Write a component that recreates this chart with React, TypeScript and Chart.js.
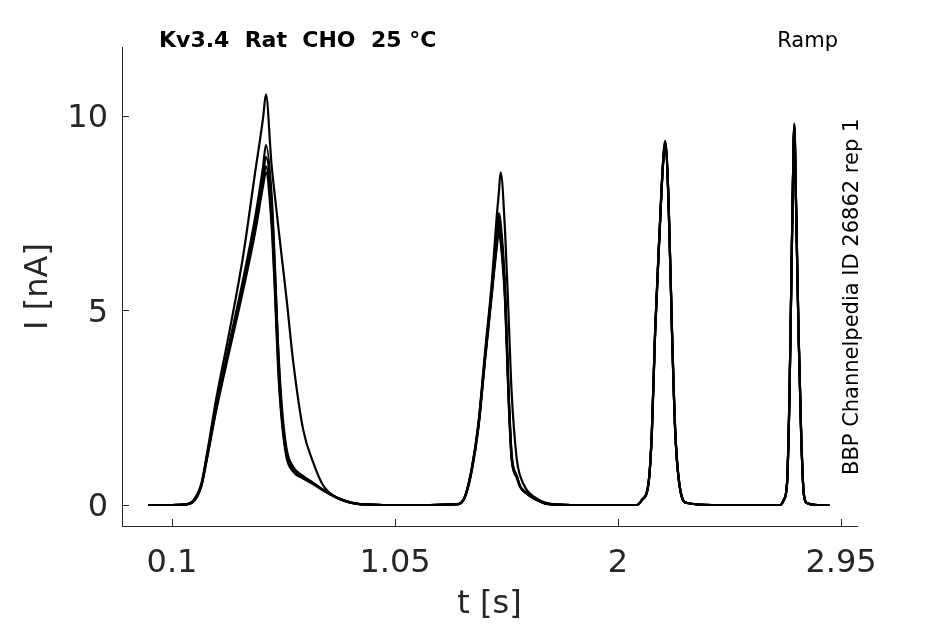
import { useEffect, useRef } from "react";
import { Chart, registerables } from "chart.js";

Chart.register(...registerables);

const TITLE = "Kv3.4  Rat  CHO  25 °C";
const PROTOCOL = "Ramp";
const SOURCE = "BBP Channelpedia ID 26862 rep 1";

const X_TICKS = [0.1, 1.05, 2, 2.95];
const Y_TICKS = [0, 5, 10];

// sample times in s (denser around the four ramp peaks)
const T = [
  0, 0.1, 0.15, 0.188, 0.225, 0.247, 0.289, 0.346, 0.403, 0.453, 0.488, 0.5,
  0.524, 0.538, 0.552, 0.567, 0.588, 0.616, 0.659, 0.701, 0.744, 0.815, 0.9,
  1.0, 1.2, 1.32, 1.348, 1.377, 1.405, 1.433, 1.462, 1.483, 1.492, 1.5,
  1.519, 1.533, 1.547, 1.569, 1.583, 1.611, 1.639, 1.697, 1.8, 2.0,
  2.08, 2.102, 2.13, 2.144, 2.158, 2.177, 2.191, 2.201, 2.215, 2.23, 2.244, 2.265, 2.294, 2.4,
  2.6, 2.69, 2.706, 2.72, 2.73, 2.737, 2.745, 2.751, 2.758, 2.769, 2.78, 2.791, 2.805, 2.85, 2.9,
];

// current traces in nA, one per sweep
const TRACE_A = [
  0, 0, 0.01, 0.1, 0.55, 1.25, 2.75, 4.5, 6.4, 8.5, 9.95, 10.55,
  8.75, 7.95, 7.2, 6.4, 5.3, 3.7, 1.93, 1.1, 0.5, 0.15, 0.02,
  0, 0, 0.03, 0.22, 0.95, 2.1, 3.9, 5.7, 7.4, 8.0, 8.55,
  7.0, 5.0, 2.87, 1.16, 0.75, 0.39, 0.22, 0.05, 0, 0,
  0, 0.14, 0.58, 1.88, 4.5, 7.05, 8.75, 9.36, 7.9, 4.5, 1.9, 0.4, 0.05, 0,
  0, 0, 0.14, 0.58, 2.75, 5.3, 8.3, 9.8, 7.9, 4.5, 1.9, 0.32, 0.05, 0, 0,
];
const TRACE_B = [
  0, 0, 0.01, 0.09, 0.52, 1.2, 2.58, 4.2, 5.8, 7.35, 8.7, 9.25,
  8.0, 6.2, 4.0, 2.45, 1.36, 0.95, 0.72, 0.56, 0.39, 0.16, 0.02,
  0, 0, 0.02, 0.22, 0.93, 2.05, 3.8, 5.55, 6.9, 7.5, 7.25,
  5.6, 3.1, 1.3, 0.75, 0.49, 0.31, 0.19, 0.03, 0, 0,
  0, 0.13, 0.57, 1.86, 4.46, 7.03, 8.72, 9.32, 7.86, 4.45, 1.86, 0.4, 0.05, 0,
  0, 0, 0.13, 0.57, 2.72, 5.29, 8.3, 9.77, 7.86, 4.44, 1.85, 0.31, 0.05, 0, 0,
];
const TRACE_C = [
  0, 0, 0.01, 0.08, 0.5, 1.17, 2.53, 4.12, 5.68, 7.18, 8.5, 8.95,
  7.8, 6.1, 4.1, 2.6, 1.45, 0.98, 0.74, 0.57, 0.39, 0.16, 0.02,
  0, 0, 0.02, 0.21, 0.91, 2.02, 3.76, 5.5, 6.8, 7.3, 7.05,
  5.45, 3.0, 1.25, 0.73, 0.48, 0.3, 0.18, 0.03, 0, 0,
  0, 0.13, 0.56, 1.85, 4.44, 7.0, 8.7, 9.28, 7.82, 4.43, 1.85, 0.39, 0.05, 0,
  0, 0, 0.13, 0.56, 2.7, 5.27, 8.28, 9.74, 7.84, 4.42, 1.84, 0.3, 0.05, 0, 0,
];
const TRACE_D = [
  0, 0, 0.01, 0.08, 0.5, 1.15, 2.5, 4.07, 5.61, 7.07, 8.35, 8.7,
  7.4, 5.7, 3.7, 2.3, 1.28, 0.9, 0.7, 0.55, 0.38, 0.15, 0.02,
  0, 0, 0.02, 0.21, 0.9, 2.0, 3.73, 5.44, 6.7, 7.15, 6.9,
  5.3, 2.9, 1.2, 0.72, 0.47, 0.3, 0.18, 0.03, 0, 0,
  0, 0.13, 0.56, 1.84, 4.42, 6.99, 8.7, 9.3, 7.84, 4.42, 1.84, 0.39, 0.05, 0,
  0, 0, 0.13, 0.56, 2.7, 5.27, 8.28, 9.75, 7.84, 4.42, 1.84, 0.3, 0.05, 0, 0,
];
const TRACE_E = [
  0, 0, 0.01, 0.07, 0.48, 1.12, 2.45, 4.0, 5.52, 6.97, 8.2, 8.55,
  7.2, 5.5, 3.5, 2.2, 1.22, 0.86, 0.68, 0.54, 0.37, 0.15, 0.02,
  0, 0, 0.02, 0.2, 0.88, 1.97, 3.68, 5.38, 6.6, 7.0, 6.75,
  5.2, 2.8, 1.15, 0.7, 0.46, 0.29, 0.17, 0.03, 0, 0,
  0, 0.12, 0.55, 1.82, 4.4, 6.96, 8.66, 9.25, 7.8, 4.4, 1.82, 0.38, 0.05, 0,
  0, 0, 0.12, 0.55, 2.68, 5.24, 8.25, 9.7, 7.8, 4.4, 1.82, 0.3, 0.05, 0, 0,
];
const TRACES = [TRACE_A, TRACE_B, TRACE_C, TRACE_D, TRACE_E];

const INK = "#262626";
const FONT = "'DejaVu Sans', sans-serif";

const decorations = {
  id: "decorations",
  afterDraw(chart: Chart) {
    const { ctx, chartArea, scales } = chart;
    ctx.save();
    ctx.strokeStyle = INK;
    ctx.lineWidth = 1;
    // inward tick marks
    for (const v of X_TICKS) {
      const px = Math.round(scales.x.getPixelForValue(v)) + 0.5;
      ctx.beginPath();
      ctx.moveTo(px, chartArea.bottom);
      ctx.lineTo(px, chartArea.bottom - 7);
      ctx.stroke();
    }
    for (const v of Y_TICKS) {
      const py = Math.round(scales.y.getPixelForValue(v)) + 0.5;
      ctx.beginPath();
      ctx.moveTo(chartArea.left, py);
      ctx.lineTo(chartArea.left + 7, py);
      ctx.stroke();
    }
    ctx.fillStyle = "#000";
    ctx.textBaseline = "alphabetic";
    ctx.font = `bold 22px ${FONT}`;
    ctx.textAlign = "left";
    ctx.fillText(TITLE, 159, 47);
    ctx.font = `21px ${FONT}`;
    ctx.textAlign = "right";
    ctx.fillText(PROTOCOL, 838, 47);
    ctx.translate(858, 475);
    ctx.rotate(-Math.PI / 2);
    ctx.textAlign = "left";
    ctx.fillText(SOURCE, 0, 0);
    ctx.restore();
  },
};

export default function App() {
  const canvasRef = useRef<HTMLCanvasElement>(null);

  useEffect(() => {
    document.body.style.margin = "0";
    if (!canvasRef.current) return;

    const chart = new Chart(canvasRef.current, {
      type: "line",
      data: {
        datasets: TRACES.map((vals) => ({
          data: T.map((t, i) => ({ x: t, y: vals[i] })),
          borderColor: "#000",
          borderWidth: 2.2,
          pointRadius: 0,
          cubicInterpolationMode: "monotone" as const,
          fill: false,
        })),
      },
      options: {
        responsive: false,
        animation: false,
        layout: { padding: { top: 47, right: 88, left: 0, bottom: 0 } },
        plugins: { legend: { display: false }, tooltip: { enabled: false } },
        scales: {
          x: {
            type: "linear",
            min: -0.113,
            max: 3.018,
            afterBuildTicks: (s) => { s.ticks = X_TICKS.map((value) => ({ value })); },
            afterFit: (s) => { s.height = 98; },
            grid: { display: false, drawTicks: false },
            border: { display: true, color: INK, width: 1 },
            ticks: {
              autoSkip: false,
              maxRotation: 0,
              padding: 18,
              color: INK,
              font: { family: FONT, size: 32 },
              callback: (v) => String(v),
            },
            title: { display: true, text: "t [s]", color: INK, font: { family: FONT, size: 32 }, padding: { top: 0, bottom: 0 } },
          },
          y: {
            type: "linear",
            min: -0.54,
            max: 11.77,
            afterBuildTicks: (s) => { s.ticks = Y_TICKS.map((value) => ({ value })); },
            afterFit: (s) => { s.width = 122; },
            grid: { display: false, drawTicks: false },
            border: { display: true, color: INK, width: 1 },
            ticks: { padding: 14, labelOffset: 3, color: INK, font: { family: FONT, size: 32 }, callback: (v) => String(v) },
            title: { display: true, text: "I [nA]", color: INK, font: { family: FONT, size: 32 }, padding: { top: 19, bottom: 0 } },
          },
        },
      },
      plugins: [decorations],
    });

    return () => chart.destroy();
  }, []);

  return (
    <div style={{ width: 945, height: 624, background: "#fff" }}>
      <canvas ref={canvasRef} width={945} height={624} role="img" aria-label="Kv3.4 ramp current traces" />
    </div>
  );
}
